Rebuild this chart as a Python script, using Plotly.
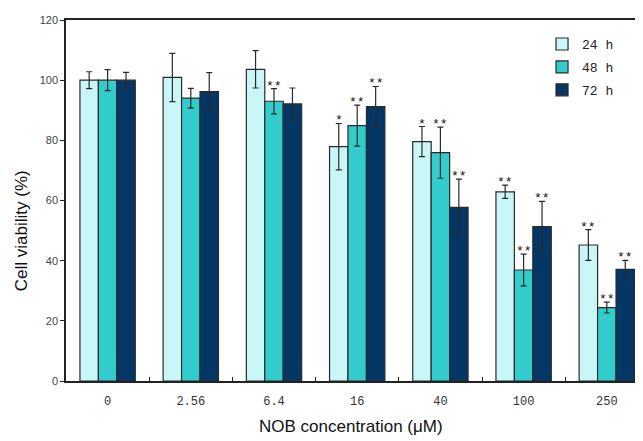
import plotly.graph_objects as go

categories = ["0", "2.56", "6.4", "16", "40", "100", "250"]
series_names = ["24 h", "48 h", "72 h"]
mean_24h = [100.0, 100.9, 103.6, 77.9, 79.6, 62.9, 45.2]
mean_48h = [100.0, 94.0, 93.0, 84.9, 75.9, 36.9, 24.4]
mean_72h = [100.0, 96.2, 92.1, 91.2, 57.7, 51.3, 37.1]
err_24h = [2.8, 8.0, 6.2, 7.7, 5.0, 2.2, 5.1]
err_48h = [3.5, 3.3, 4.2, 6.8, 8.5, 5.3, 1.8]
err_72h = [2.6, 6.3, 5.3, 6.7, 9.4, 8.4, 3.0]
sig_24h = ["", "", "", "*", "*", "**", "**"]
sig_48h = ["", "", "**", "**", "**", "**", "**"]
sig_72h = ["", "", "", "**", "**", "**", "**"]
colors = ["#C9F7F7", "#33CCCC", "#043666"]

means = [mean_24h, mean_48h, mean_72h]
errs = [err_24h, err_48h, err_72h]
sigs = [sig_24h, sig_48h, sig_72h]

fig = go.Figure()
for k in range(3):
    fig.add_trace(go.Bar(
        x=categories, y=means[k], name=series_names[k],
        marker=dict(color=colors[k], line=dict(color="#2a2a2a", width=1.2)),
        error_y=dict(type="data", array=errs[k], color="#2a2a2a", thickness=1.2, width=3),
        legendgroup=series_names[k],
    ))

bargap = 0.335
bar_w = (1 - bargap) / 3
annotations = []
for k in range(3):
    for i in range(len(categories)):
        if sigs[k][i]:
            annotations.append(dict(
                x=i + (k - 1) * bar_w, y=means[k][i] + errs[k][i], xref="x", yref="y",
                text=sigs[k][i], showarrow=False, xanchor="center", yanchor="bottom",
                yshift=-7,
                font=dict(family="Liberation Mono", size=13, color="#111"),
            ))

annotations.append(dict(
    x=0, y=0.415, xref="paper", yref="paper", xshift=-45,
    text="Cell viability (%)", textangle=-90, showarrow=False,
    xanchor="center", yanchor="middle",
    font=dict(family="Liberation Sans, Arial", size=17, color="#111"),
))
annotations.append(dict(
    x=0.494, y=-0.127, xref="paper", yref="paper",
    text="NOB concentration (μM)", showarrow=False,
    xanchor="center", yanchor="middle",
    font=dict(family="Liberation Sans, Arial", size=17, color="#111"),
))

# page body has an 8px default margin, so the figure is sized to fit the window
fig.update_layout(
    width=635, height=433,
    margin=dict(l=58, r=0, t=12, b=60),
    paper_bgcolor="white", plot_bgcolor="white",
    barmode="group", bargap=bargap, bargroupgap=0,
    showlegend=True,
    legend=dict(
        x=0.825, y=0.975, xanchor="left", yanchor="top",
        bgcolor="rgba(0,0,0,0)", tracegroupgap=3,
        font=dict(family="Liberation Mono", size=13, color="#222"),
        itemwidth=30,
    ),
    annotations=annotations,
    xaxis=dict(
        type="category", range=[-0.5, 6.435],
        showline=True, linecolor="#222", linewidth=1.5, mirror=True,
        ticks="inside", tickson="boundaries", ticklen=4, tickcolor="#222",
        showgrid=False, zeroline=False,
        tickfont=dict(family="Liberation Mono", size=12, color="#333"),
        ticklabelstandoff=8,
    ),
    yaxis=dict(
        range=[0, 120], dtick=20, tick0=0,
        showline=True, linecolor="#222", linewidth=1.5,
        ticks="outside", ticklen=4, tickcolor="#222",
        showgrid=False, zeroline=False,
        tickfont=dict(family="Liberation Sans, Arial", size=11, color="#444"),
    ),
)

fig.write_html("out.html")
